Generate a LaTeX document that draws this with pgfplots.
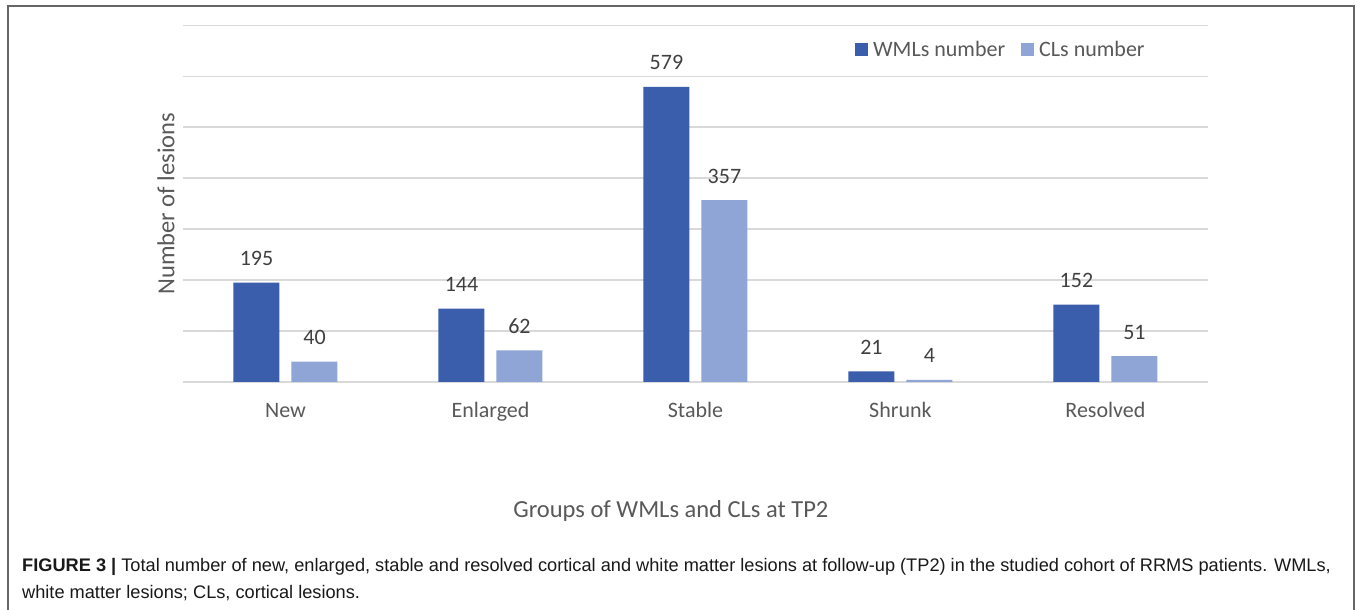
\documentclass[border=0pt]{standalone}
\usepackage{fontspec}
\setmainfont{Carlito}
\newfontfamily\capfont{Liberation Sans}
\usepackage{pgfplots}
\pgfplotsset{compat=1.18}
\definecolor{wml}{HTML}{3A5DAC}
\definecolor{cl}{HTML}{8FA5D6}
\definecolor{txt}{HTML}{595959}
\definecolor{lbl}{HTML}{404040}
\definecolor{grd}{HTML}{D9D9D9}
\begin{document}
\begin{tikzpicture}[x=1pt,y=1pt]
\useasboundingbox (0,0) rectangle (1358,610);
\fill[white] (0,0) rectangle (1358,610);
\draw[color=black!60, line width=1.4pt] (8,0) -- (8,604) -- (1354,604) -- (1354,0);
\begin{axis}[
  at={(183pt,228pt)}, anchor=south west,
  scale only axis, width=1025pt, height=356.7pt,
  ymin=0, ymax=700, xmin=-0.5, xmax=4.5,
  axis line style={draw=none},
  ytick={0,100,...,700}, yticklabels={},
  ymajorgrids, grid style={grd, line width=1.5pt},
  major tick length=0pt,
  /pgf/number format/assume math mode=true,
  xtick=data, xticklabels={New,Enlarged,Stable,Shrunk,Resolved},
  xticklabel style={font=\fontsize{22}{26}\selectfont, text=txt, anchor=base, yshift=-36pt},
  ybar, bar width=46pt,
  nodes near coords,
  every node near coord/.append style={font=\fontsize{22}{26}\selectfont, text=lbl, anchor=base, yshift=17pt},
  ylabel={Number of lesions},
  ylabel style={at={(axis description cs:-0.0166,0.5)}, anchor=center, font=\fontsize{24.5}{28}\selectfont, text=txt},
  xlabel={Groups of WMLs and CLs at TP2},
  xlabel style={at={(axis description cs:0.476,-0.381)}, anchor=base, font=\fontsize{24.5}{28}\selectfont, text=txt},
  legend columns=2,
  legend style={at={(0.798,0.931)}, anchor=center, draw=none, fill=none,
    font=\fontsize{22}{26}\selectfont, text=txt,
    /tikz/every odd column/.append style={column sep=3pt},
    /tikz/every even column/.append style={column sep=14pt}},
  legend image code/.code={\fill[#1] (0pt,-6pt) rectangle (13pt,7pt);},
  clip=false,
]
\addplot[fill=wml, draw=none, bar shift=-29pt] coordinates {(0,195) (1,144) (2,579) (3,21) (4,152)};
\addplot[fill=cl, draw=none, bar shift=29pt] coordinates {(0,40) (1,62) (2,357) (3,4) (4,51)};
\legend{WMLs number, CLs number}
\end{axis}
\node[anchor=base west, inner sep=0pt, font=\capfont\fontsize{18.2}{21}\selectfont, text=black!90] at (22,38) {\textbf{FIGURE 3 |} Total number of new, enlarged, stable and resolved cortical and white matter lesions at follow-up (TP2) in the studied cohort of RRMS patients. WMLs,};
\node[anchor=base west, inner sep=0pt, font=\capfont\fontsize{18.2}{21}\selectfont, text=black!90] at (22,11) {white matter lesions; CLs, cortical lesions.};
\end{tikzpicture}
\end{document}
